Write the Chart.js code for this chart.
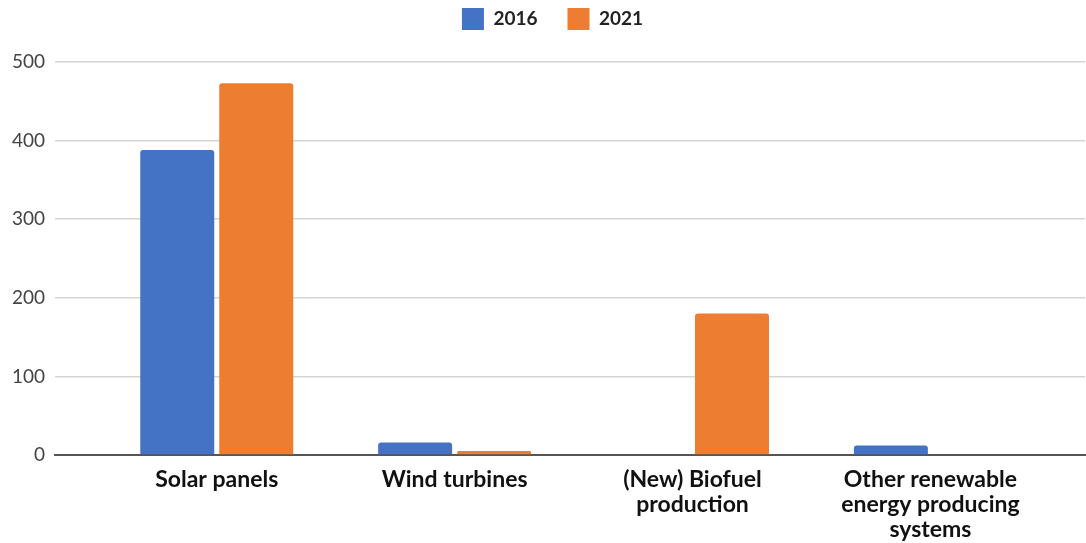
<!DOCTYPE html>
<html>
<head>
<meta charset="utf-8">
<script src="https://cdn.jsdelivr.net/npm/chart.js@4/dist/chart.umd.min.js"></script>
<style>
html,body{margin:0;padding:0;background:#fff;}
#wrap{width:1086px;height:543px;}
</style>
</head>
<body>
<div id="wrap"><canvas id="c" width="1086" height="543"></canvas></div>
<script>
const categories = [
  "Solar panels",
  "Wind turbines",
  ["(New) Biofuel", "production"],
  ["Other renewable", "energy producing", "systems"]
];
const seriesNames = ["2016", "2021"];
const values2016 = [388, 16, 0, 12];
const values2021 = [473, 5, 180, 0];
const yTicks = [0, 100, 200, 300, 400, 500];

const FONT = "Lato, 'Open Sans', sans-serif";
const LEGEND_PAD = 30;

const legendFitPlugin = {
  id: 'legendFit',
  beforeLayout(chart) {
    const lg = chart.legend;
    if (lg && !lg._patched) {
      const orig = lg.fit;
      lg.fit = function () {
        orig.call(this);
        this.height = 62 + 22;
      };
      lg._patched = true;
    }
  },
  afterLayout(chart) {
    const lg = chart.legend;
    if (lg) {
      lg.left += 10;
      lg.right += 10;
    }
  }
};

new Chart(document.getElementById('c'), {
  type: 'bar',
  data: {
    datasets: [
      {
        label: seriesNames[0],
        data: values2016.map((v, i) => ({x: i, y: v})),
        backgroundColor: '#4472c4',
        borderRadius: {topLeft: 3, topRight: 3},
        borderSkipped: 'start'
      },
      {
        label: seriesNames[1],
        data: values2021.map((v, i) => ({x: i, y: v})),
        backgroundColor: '#ed7d31',
        borderRadius: {topLeft: 3, topRight: 3},
        borderSkipped: 'start'
      }
    ]
  },
  plugins: [legendFitPlugin],
  options: {
    responsive: false,
    animation: false,
    categoryPercentage: 0.664,
    barPercentage: 0.937,
    layout: {padding: {left: 0, right: 1, top: -22, bottom: 0}},
    plugins: {
      legend: {
        position: 'top',
        align: 'center',
        labels: {
          boxWidth: 22,
          boxHeight: 22,
          padding: LEGEND_PAD,
          color: '#222',
          font: {family: FONT, size: 19, weight: 'bold'}
        }
      },
      tooltip: {enabled: false}
    },
    scales: {
      x: {
        type: 'linear',
        min: -0.68,
        max: 3.65,
        offset: false,
        afterBuildTicks: (scale) => {
          scale.ticks = categories.map((c, i) => ({value: i}));
        },
        afterFit: (scale) => { scale.height = 88; },
        ticks: {
          autoSkip: false,
          maxRotation: 0,
          padding: 12,
          color: '#111',
          font: {family: FONT, size: 23, weight: 'bold', lineHeight: 1.087},
          callback: (v) => categories[v]
        },
        grid: {display: false, drawTicks: false},
        border: {display: true, color: '#555', width: 2}
      },
      y: {
        min: 0,
        max: 500,
        afterBuildTicks: (scale) => {
          scale.ticks = yTicks.map(v => ({value: v}));
        },
        afterFit: (scale) => { scale.width = 55; },
        ticks: {
          padding: 10,
          color: '#444',
          font: {family: FONT, size: 19},
        },
        grid: {color: '#d4d4d4', lineWidth: 1.5, drawTicks: false},
        border: {display: false}
      }
    }
  }
});
</script>
</body>
</html>
